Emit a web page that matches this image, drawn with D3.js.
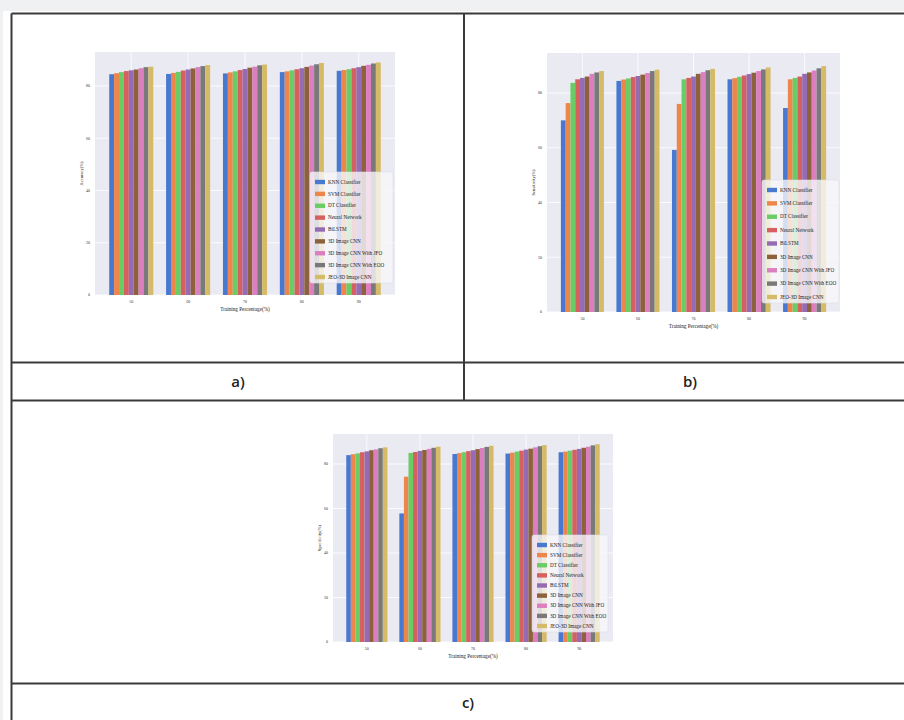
<!DOCTYPE html>
<html>
<head>
<meta charset="utf-8">
<script src="https://cdn.jsdelivr.net/npm/d3@7"></script>
<style>
  body { margin: 0; background: #f0f1f3; }
  svg { display: block; }
</style>
</head>
<body>
<script>
// training percentages (x categories)
const trainingPct = ['50', '60', '70', '80', '90'];

const methods = [
  'KNN Classifier', 'SVM Classifier', 'DT Classifier', 'Neural Network', 'BiLSTM',
  '3D Image CNN', '3D Image CNN With JFO', '3D Image CNN With EOO', 'JEO-3D Image CNN'
];

const palette = ['#4878d0', '#ee854a', '#6acc64', '#d65f5f', '#956cb4',
  '#8c613c', '#dc7ec0', '#797979', '#d5bb67'];

const yTicks = [0, 20, 40, 60, 80];

// one row per training percentage, one value per method
const accuracyA = [
  [84.5, 84.9, 85.3, 85.7, 86.0, 86.3, 86.8, 87.2, 87.4],
  [84.6, 85.0, 85.4, 85.9, 86.3, 86.7, 87.2, 87.6, 88.0],
  [84.8, 85.2, 85.6, 86.1, 86.5, 87.0, 87.4, 87.9, 88.2],
  [85.3, 85.6, 86.0, 86.4, 86.8, 87.3, 87.8, 88.3, 88.8],
  [85.8, 86.1, 86.4, 86.8, 87.2, 87.7, 88.1, 88.6, 89.0]
];

const sensitivityB = [
  [70.0, 76.3, 83.7, 85.0, 85.5, 86.0, 87.0, 87.5, 88.0],
  [84.4, 84.9, 85.3, 85.8, 86.2, 86.7, 87.3, 88.0, 88.5],
  [59.2, 76.0, 85.0, 85.5, 86.0, 87.0, 87.6, 88.3, 88.8],
  [85.0, 85.4, 85.9, 86.4, 86.9, 87.4, 88.0, 88.6, 89.3],
  [74.5, 85.0, 85.5, 86.0, 87.0, 87.5, 88.2, 89.0, 89.8]
];

const specificityC = [
  [84.0, 84.4, 84.8, 85.3, 85.7, 86.2, 86.6, 87.1, 87.5],
  [57.8, 74.3, 85.0, 85.4, 85.9, 86.3, 86.8, 87.3, 87.8],
  [84.5, 84.9, 85.3, 85.8, 86.2, 86.7, 87.2, 87.7, 88.2],
  [84.7, 85.1, 85.6, 86.0, 86.5, 86.9, 87.5, 88.0, 88.5],
  [85.3, 85.6, 86.0, 86.4, 86.8, 87.3, 87.8, 88.4, 88.9]
];

const W = 904, H = 720;
const svg = d3.select('body').append('svg')
  .attr('width', W)
  .attr('height', H);

// page + table
svg.append('rect').attr('x', 3).attr('y', 11).attr('width', W).attr('height', H).attr('fill', '#fff');

const lineColor = '#3a3a3a';
const tableLines = [
  [11.5, 13.5, 11.5, H],
  [11.5, 13.5, W, 13.5],
  [464, 13.5, 464, 400.5],
  [11.5, 362.5, W, 362.5],
  [11.5, 400.5, W, 400.5],
  [11.5, 683.5, W, 683.5]
];
svg.append('g').selectAll('line')
  .data(tableLines)
  .enter().append('line')
  .attr('x1', d => d[0]).attr('y1', d => d[1])
  .attr('x2', d => d[2]).attr('y2', d => d[3])
  .attr('stroke', lineColor)
  .attr('stroke-width', 2);

const captions = [['a)', 238, 387], ['b)', 690, 387], ['c)', 468, 708]];
svg.append('g').selectAll('text')
  .data(captions)
  .enter().append('text')
  .attr('x', d => d[1]).attr('y', d => d[2])
  .attr('text-anchor', 'middle')
  .style('font-family', '"Open Sans", sans-serif')
  .style('font-size', '15px')
  .style('font-weight', 600)
  .style('fill', '#222')
  .text(d => d[0]);

const serif = '"Liberation Serif", "DejaVu Serif", serif';

function drawPanel(cfg) {
  const g = svg.append('g');

  const x = d3.scaleBand()
    .domain(trainingPct)
    .range([cfg.left, cfg.right])
    .paddingInner(0.225)
    .paddingOuter(0.25);

  const xs = d3.scaleBand()
    .domain(methods)
    .range([0, x.bandwidth()]);

  const y = d3.scaleLinear()
    .domain([0, cfg.yMax])
    .range([cfg.bottom, cfg.top]);

  // plot background
  g.append('rect')
    .attr('x', cfg.left).attr('y', cfg.top)
    .attr('width', cfg.right - cfg.left)
    .attr('height', cfg.bottom - cfg.top)
    .attr('fill', '#eaeaf2');

  // grid
  g.append('g').selectAll('line.h')
    .data(yTicks)
    .enter().append('line')
    .attr('x1', cfg.left).attr('x2', cfg.right)
    .attr('y1', d => y(d)).attr('y2', d => y(d))
    .attr('stroke', '#fff').attr('stroke-width', 0.8);

  g.append('g').selectAll('line.v')
    .data(trainingPct)
    .enter().append('line')
    .attr('x1', d => x(d) + x.bandwidth() / 2).attr('x2', d => x(d) + x.bandwidth() / 2)
    .attr('y1', cfg.top).attr('y2', cfg.bottom)
    .attr('stroke', '#fff').attr('stroke-width', 0.8);

  // bars
  g.append('g').selectAll('g')
    .data(cfg.values)
    .enter().append('g')
    .attr('transform', (d, i) => 'translate(' + x(trainingPct[i]) + ',0)')
    .selectAll('rect')
    .data(d => d.map((v, j) => ({ v: v, m: methods[j], c: palette[j] })))
    .enter().append('rect')
    .attr('x', d => xs(d.m))
    .attr('width', xs.bandwidth())
    .attr('y', d => y(d.v))
    .attr('height', d => y(0) - y(d.v))
    .attr('fill', d => d.c);

  // tick labels
  g.append('g').selectAll('text')
    .data(yTicks)
    .enter().append('text')
    .attr('x', cfg.left - 5)
    .attr('y', d => y(d) + 1.3)
    .attr('text-anchor', 'end')
    .style('font-family', serif)
    .style('font-size', '4px')
    .style('fill', '#333')
    .text(d => d);

  g.append('g').selectAll('text')
    .data(trainingPct)
    .enter().append('text')
    .attr('x', d => x(d) + x.bandwidth() / 2)
    .attr('y', cfg.bottom + 8)
    .attr('text-anchor', 'middle')
    .style('font-family', serif)
    .style('font-size', '4px')
    .style('fill', '#333')
    .text(d => d);

  g.append('text')
    .attr('x', (cfg.left + cfg.right) / 2)
    .attr('y', cfg.bottom + 16)
    .attr('text-anchor', 'middle')
    .style('font-family', serif)
    .style('font-size', '5.2px')
    .style('fill', '#222')
    .text('Training Percentage(%)');

  g.append('text')
    .attr('transform', 'translate(' + (cfg.left - 12) + ',' + ((cfg.top + cfg.bottom) / 2) + ')rotate(-90)')
    .attr('text-anchor', 'middle')
    .style('font-family', serif)
    .style('font-size', '4.5px')
    .style('fill', '#222')
    .text(cfg.yLabel);

  // legend
  const lg = g.append('g');
  lg.append('rect')
    .attr('x', cfg.legend.x0).attr('y', cfg.legend.y0)
    .attr('width', cfg.legend.x1 - cfg.legend.x0)
    .attr('height', cfg.legend.y1 - cfg.legend.y0)
    .attr('rx', 2)
    .attr('fill', '#f7f7fa')
    .attr('fill-opacity', 0.8)
    .attr('stroke', '#dcdce4')
    .attr('stroke-width', 0.6);

  const ly = d3.scalePoint()
    .domain(methods)
    .range([cfg.legend.y0 + 10, cfg.legend.y1 - 6]);

  const items = lg.selectAll('g')
    .data(methods)
    .enter().append('g')
    .attr('transform', d => 'translate(' + (cfg.legend.x0 + 5) + ',' + ly(d) + ')');

  items.append('rect')
    .attr('x', 0).attr('y', -2.2)
    .attr('width', 10).attr('height', 4.4)
    .attr('fill', (d, i) => palette[i]);

  items.append('text')
    .attr('x', 13).attr('y', 1.7)
    .style('font-family', serif)
    .style('font-size', '5.2px')
    .style('fill', '#222')
    .text(d => d);
}

drawPanel({
  left: 95, right: 395, top: 52, bottom: 295, yMax: 93,
  values: accuracyA, yLabel: 'Accuracy(%)',
  legend: { x0: 310, x1: 393, y0: 172, y1: 283 }
});

drawPanel({
  left: 547, right: 840, top: 53, bottom: 312, yMax: 94.6,
  values: sensitivityB, yLabel: 'Sensitivity(%)',
  legend: { x0: 762, x1: 839, y0: 180, y1: 303 }
});

drawPanel({
  left: 333, right: 613, top: 434, bottom: 642, yMax: 93.5,
  values: specificityC, yLabel: 'Specificity(%)',
  legend: { x0: 532, x1: 608, y0: 535, y1: 632 }
});
</script>
</body>
</html>
